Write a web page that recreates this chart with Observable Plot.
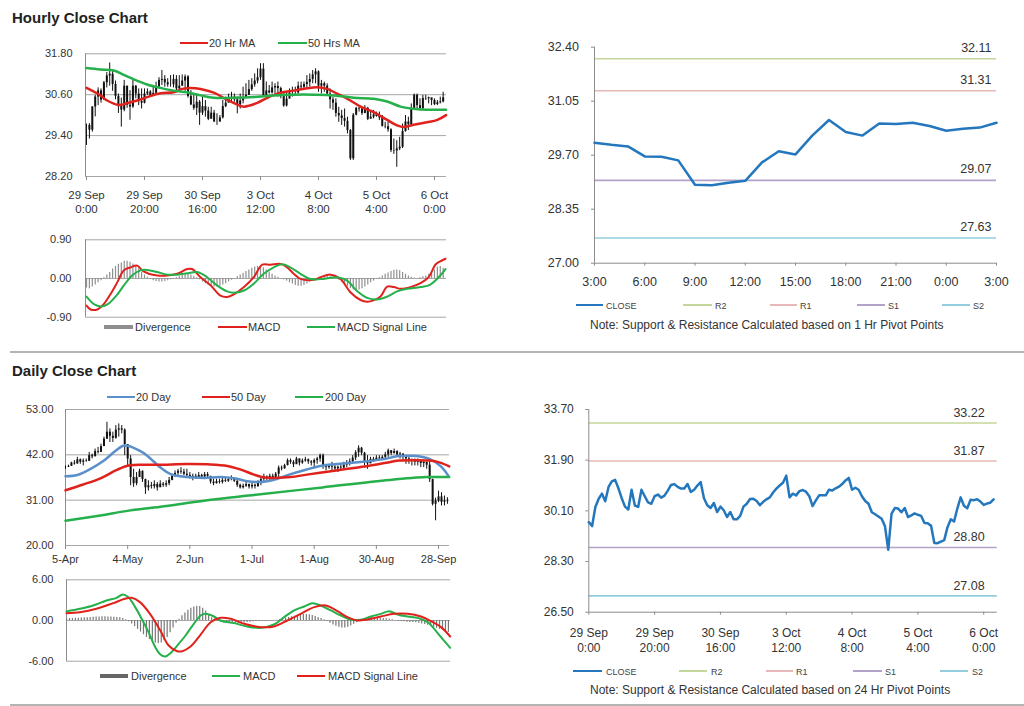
<!DOCTYPE html>
<html><head><meta charset="utf-8">
<script src="https://cdn.jsdelivr.net/npm/d3@7"></script>
<script src="https://cdn.jsdelivr.net/npm/@observablehq/plot@0.6"></script>
<style>
body{margin:0;background:#fff;font-family:"Liberation Sans",Arial,Helvetica,sans-serif;}
#page{position:relative;width:1024px;height:706px;overflow:hidden;background:#fff;}
.abs{position:absolute;white-space:nowrap;}
.title{font-weight:bold;font-size:15px;color:#222;transform:translateY(-50%);}
.lt{transform:translateY(-50%);color:#333;}
</style></head><body><div id="page"></div>
<script>
// ---------------- HOURLY DATA (bar index 0 = 29 Sep 0:00) ----------------
const hTickIdx = [0, 20, 40, 60, 80, 100, 120];
const hTickLabels = ["29 Sep\n0:00", "29 Sep\n20:00", "30 Sep\n16:00", "3 Oct\n12:00", "4 Oct\n8:00", "5 Oct\n4:00", "6 Oct\n0:00"];
const hPriceTicks = [28.2, 29.4, 30.6, 31.8];
const hMacdTicks = [-0.9, 0, 0.9];

const hClose = [29.70,29.56,30.24,30.53,30.71,30.44,30.95,31.15,31.20,30.90,
30.55,30.25,30.15,30.85,30.29,30.24,30.85,30.62,30.40,30.35,
30.62,30.68,30.57,30.64,30.82,31.02,31.05,30.95,30.89,30.89,
31.05,30.77,30.85,31.00,31.12,30.55,30.30,30.20,30.38,30.06,
30.25,30.12,29.88,30.06,29.80,29.80,29.92,30.25,30.35,30.52,
30.53,30.45,30.30,30.42,30.51,30.58,30.75,30.89,31.00,31.10,
31.35,30.58,30.71,30.65,30.80,30.84,30.78,30.62,30.27,30.47,
30.65,30.65,30.65,30.85,30.82,30.90,30.96,31.05,31.18,31.27,
30.85,30.92,30.85,30.62,30.45,30.35,30.05,29.98,29.90,29.82,
29.55,28.72,30.00,30.20,30.18,30.05,30.20,29.88,29.94,30.01,
29.96,29.92,29.67,29.66,29.57,28.96,28.95,29.01,29.06,29.52,
29.80,29.72,30.19,30.58,30.28,30.19,30.49,30.48,30.51,30.43,
30.31,30.36,30.39,30.51];
const hHigh = [29.74,29.75,30.25,30.58,30.80,30.77,30.99,31.25,31.53,31.30,
31.00,30.62,30.50,31.02,30.85,30.72,31.07,30.87,30.77,30.77,
30.77,30.77,30.72,30.87,30.97,31.10,31.31,31.16,31.07,31.16,
31.18,31.16,31.16,31.18,31.18,31.16,30.72,30.58,30.62,30.43,
30.53,30.43,30.23,30.23,30.14,30.04,29.99,30.43,30.53,30.62,
30.67,30.62,30.53,30.62,30.82,30.92,31.02,31.07,31.21,31.36,
31.51,31.51,30.97,30.87,30.97,30.92,30.97,30.82,30.62,30.67,
30.77,30.82,30.82,30.97,30.97,30.97,31.16,31.21,31.31,31.36,
31.30,31.02,30.97,30.92,30.77,30.53,30.48,30.23,30.14,30.18,
29.94,29.58,30.05,30.23,30.23,30.23,30.28,30.23,30.09,30.14,
30.09,30.09,29.99,29.79,29.84,29.60,29.30,29.25,29.35,29.74,
29.99,29.94,30.33,30.62,30.62,30.48,30.58,30.58,30.53,30.48,
30.48,30.43,30.53,30.67];
const hLow = [29.11,29.30,29.50,29.95,30.28,30.35,30.45,30.80,30.85,30.70,
30.45,30.05,29.65,30.10,30.20,29.85,30.20,30.48,30.28,30.18,
30.33,30.58,30.52,30.55,30.62,30.82,30.87,30.82,30.82,30.82,
30.80,30.72,30.75,30.85,30.70,30.50,30.28,30.14,29.99,29.70,
29.99,29.94,29.84,29.89,29.79,29.70,29.79,29.89,30.22,30.38,
30.38,30.38,30.04,30.18,30.33,30.48,30.58,30.70,30.82,30.92,
31.02,30.53,30.58,30.62,30.62,30.62,30.53,30.48,30.23,30.24,
30.48,30.53,30.58,30.62,30.72,30.72,30.77,30.82,30.92,30.92,
30.67,30.62,30.67,30.58,30.18,30.14,29.94,29.79,29.70,29.65,
29.45,28.67,28.67,29.98,30.09,29.99,30.04,29.84,29.89,29.89,
29.94,29.84,29.65,29.60,29.50,28.90,28.85,28.47,28.96,29.02,
29.50,29.55,29.70,30.18,30.18,30.18,30.15,30.43,30.33,30.28,
30.28,30.28,30.33,30.36];
// moving averages, read as [bar, value]
const ma20H = [[0,30.80],[4.8,30.58],[7.1,30.43],[11.2,30.30],[14,30.35],[17.5,30.43],[20.9,30.53],[25.5,30.64],[30,30.67],[33,30.77],[35.9,30.80],[39.3,30.77],[43.9,30.66],[48.5,30.45],[52,30.31],[54.3,30.25],[58.9,30.36],[62.3,30.51],[66.9,30.66],[71.5,30.72],[76.1,30.79],[79.5,30.82],[83,30.77],[86.4,30.63],[91,30.43],[94.5,30.25],[99,30.09],[103.7,29.86],[107.1,29.70],[109.4,29.65],[112.8,29.72],[117.4,29.79],[121,29.86],[124,30.00]];
const ma50H = [[0,31.38],[4.8,31.34],[9.4,31.31],[12.9,31.18],[16.3,31.05],[20.9,30.90],[25.5,30.80],[30,30.72],[34.7,30.67],[39.3,30.58],[43.9,30.51],[50.8,30.51],[57.7,30.53],[64.6,30.58],[71.5,30.60],[78.4,30.60],[85.3,30.58],[92.2,30.51],[99,30.48],[103.7,30.40],[108.3,30.25],[112.8,30.19],[117.4,30.16],[124,30.16]];
// MACD (hourly)
const hMacd = [[0,-0.63],[1.4,-0.72],[3.7,-0.72],[6,-0.59],[8.3,-0.36],[10.6,-0.09],[12.9,0.19],[15.2,0.26],[17.5,0.30],[19.2,0.19],[21.5,0.11],[24.4,0.07],[27.8,0.07],[31.3,0.11],[34.7,0.22],[36.4,0.22],[39.3,0.03],[42.8,-0.16],[46.2,-0.40],[48.5,-0.43],[50.8,-0.37],[54.3,-0.20],[57.7,0.03],[60.6,0.32],[63.4,0.32],[66.9,0.34],[69.2,0.26],[71.5,0.11],[73.8,-0.01],[78.4,-0.03],[80.7,0.03],[84.1,0.09],[87.6,-0.01],[91,-0.32],[94.5,-0.50],[96.8,-0.54],[99,-0.51],[101.4,-0.42],[103.7,-0.19],[106,-0.20],[108.3,-0.24],[111.7,-0.20],[115.2,-0.11],[118,0.03],[120.3,0.32],[122,0.40],[123.8,0.46]];
const hSignal = [[0,-0.42],[2.9,-0.61],[5.2,-0.65],[7.5,-0.59],[10.3,-0.40],[12.9,-0.16],[15.7,0.07],[18.6,0.19],[20.9,0.20],[24.4,0.15],[27.8,0.09],[31.3,0.09],[34.7,0.12],[38.2,0.15],[41.6,0.03],[45,-0.16],[48.5,-0.30],[50.8,-0.33],[54.3,-0.28],[57.7,-0.12],[61.1,0.11],[64.6,0.26],[67.5,0.33],[70.3,0.26],[73.8,0.11],[77.2,-0.01],[81.8,-0.01],[86.4,0.03],[89.9,-0.05],[93.3,-0.29],[96.8,-0.45],[100.2,-0.49],[103.7,-0.42],[107.1,-0.30],[110.6,-0.24],[115.2,-0.20],[118.6,-0.14],[122,0.07],[123.8,0.22]];
const hDiv = [-0.22,-0.24,-0.20,-0.15,-0.10,-0.05,
0.02,0.08,0.14,0.22,0.28,0.33,
0.36,0.40,0.40,0.38,0.34,0.28,
0.22,0.14,0.08,0.03,-0.02,
-0.05,-0.07,-0.08,-0.08,-0.07,-0.05,-0.03,-0.01,
0.02,0.05,0.08,0.10,0.10,0.08,0.05,0.02,
-0.03,-0.08,-0.12,-0.16,-0.18,-0.20,-0.20,-0.18,-0.15,-0.12,
-0.08,-0.04,0.00,0.04,
0.08,0.12,0.16,0.20,0.24,0.27,0.28,0.28,0.25,0.20,0.15,0.10,
0.06,0.03,0.00,-0.03,-0.06,
-0.10,-0.13,-0.16,-0.18,-0.18,-0.16,-0.13,-0.09,-0.05,
-0.02,0.02,0.04,0.05,0.05,0.04,0.02,0.00,-0.04,
-0.09,-0.14,-0.19,-0.23,-0.27,-0.28,-0.27,-0.24,-0.20,-0.15,-0.10,
-0.06,-0.02,0.02,0.06,0.10,0.13,
0.16,0.19,0.20,0.18,0.14,0.10,0.06,
0.03,0.01,0.00,0.02,0.04,0.06,
0.10,0.14,0.20,0.26,0.28,0.24];

// hourly pivot chart: last 25 hourly closes (5 Oct 3:00 .. 6 Oct 3:00)
const hpStart = 99;
const hpTickIdx = [0, 3, 6, 9, 12, 15, 18, 21, 24];
const hpTickLabels = ["3:00", "6:00", "9:00", "12:00", "15:00", "18:00", "21:00", "0:00", "3:00"];
const hpTicks = [27.00, 28.35, 29.70, 31.05, 32.40];
const hpLevelNames = ["R2", "R1", "S1", "S2"];
const hpLevels = [32.11, 31.31, 29.07, 27.63];

// ---------------- DAILY DATA (bar index 0 = 5 Apr) ----------------
const dTickIdx = [0, 21, 42, 63, 84, 105, 126];
const dTickLabels = ["5-Apr", "4-May", "2-Jun", "1-Jul", "1-Aug", "30-Aug", "28-Sep"];
const dPriceTicks = [20, 31, 42, 53];
const dMacdTicks = [-6, 0, 6];
const dClose = [39.0,39.2,40.0,39.8,40.8,40.2,40.5,40.4,41.8,41.5,
42.8,42.6,44.0,45.8,47.5,46.5,46.0,48.0,48.3,48.0,
44.5,41.0,36.5,35.0,36.5,38.0,36.0,34.0,34.5,34.3,
34.8,34.0,34.9,34.6,35.0,35.8,36.8,37.5,38.0,37.8,
37.3,37.0,36.5,36.8,36.5,37.0,36.6,37.2,36.8,35.4,
35.0,35.5,35.3,35.8,35.6,36.0,36.2,35.6,34.6,34.0,
34.4,34.8,34.2,34.6,34.3,35.2,36.0,36.6,36.3,36.8,
36.5,37.3,38.8,38.6,39.4,40.6,40.2,39.6,41.0,40.0,
40.5,40.8,40.3,40.0,40.6,41.0,41.8,39.2,38.9,39.3,
39.0,38.6,39.0,38.8,39.5,39.8,40.3,41.2,42.5,43.6,
42.4,40.3,39.8,40.9,40.6,41.2,41.0,41.4,42.0,43.0,
42.3,42.8,42.0,42.2,41.4,41.0,40.4,40.6,40.2,40.5,
39.9,40.2,39.5,36.0,30.0,30.8,31.8,30.5,30.8,30.9];
const dHigh = [39.3,39.5,40.2,40.6,41.4,41.0,41.0,41.0,42.6,42.2,
43.4,43.8,44.6,46.3,49.9,48.3,47.5,49.1,49.5,49.1,
48.3,44.5,41.8,38.5,37.7,38.5,38.1,36.1,35.7,35.3,
35.7,35.3,35.7,35.3,35.7,36.5,37.3,38.1,38.5,38.9,
38.5,38.5,37.7,37.3,37.3,37.7,37.3,37.7,37.7,36.5,
36.1,36.1,36.1,36.5,36.5,36.5,36.9,36.5,35.7,34.9,
34.9,35.3,34.9,35.3,34.9,35.7,36.5,37.3,36.9,37.3,
37.3,37.7,39.3,39.3,39.7,41.0,41.0,40.6,41.4,41.0,
41.0,41.4,41.0,40.6,41.0,41.4,42.2,42.2,39.7,39.7,
40.2,39.7,39.3,39.7,40.2,40.6,41.0,41.8,43.0,44.2,
43.8,42.6,41.8,41.4,41.4,41.8,41.8,41.8,42.6,43.4,
43.0,43.4,43.0,42.6,42.2,41.8,41.4,41.0,41.0,41.0,
40.6,40.6,40.2,40.6,36.1,31.5,33.2,32.8,32.0,31.6];
const dLow = [38.5,38.9,39.3,39.5,39.7,39.7,39.3,40.2,40.6,41.0,
41.8,42.2,42.6,44.2,45.8,45.0,45.0,45.8,46.3,47.1,
41.8,39.3,34.5,34.1,34.5,36.5,35.3,32.4,33.2,33.7,
33.7,33.2,34.1,34.1,34.1,34.5,35.7,36.5,36.9,37.3,
36.9,36.5,36.1,35.7,36.1,36.1,36.1,36.1,36.5,34.9,
34.5,34.9,34.9,34.9,35.3,35.3,35.7,35.3,34.1,33.7,
33.7,34.1,33.7,33.7,33.7,34.1,34.5,35.3,35.7,35.7,
35.7,36.1,36.5,38.1,38.5,39.3,39.7,38.9,40.2,39.3,
39.7,40.2,39.7,39.3,38.9,39.7,40.2,38.5,38.1,38.5,
38.1,37.7,37.7,38.1,38.5,38.9,39.3,39.7,40.6,41.4,
41.8,39.3,38.5,40.2,40.2,40.6,40.6,40.6,41.0,41.4,
41.8,42.2,41.4,41.0,40.6,39.7,39.7,39.3,39.3,39.3,
38.9,38.9,38.5,35.3,29.6,26.0,30.4,29.6,29.6,30.0];
const ma20D = [[0,36.8],[4,37.1],[8.5,38.6],[13,40.6],[16.3,42.6],[19.5,44.2],[21,44.2],[25,43.0],[27.6,41.8],[32.1,38.9],[35.5,37.3],[41,36.6],[46.8,36.4],[52.4,36.6],[56.9,36.3],[61.4,35.6],[64.8,35.4],[68.2,35.6],[71.6,36.2],[75.5,37.2],[81.2,38.4],[86.9,39.4],[93.6,39.9],[100.3,40.3],[107,40.9],[112.7,41.7],[118.4,41.7],[122.9,41.0],[126.8,39.2],[129.4,36.8]];
const ma50D = [[0,33.4],[6,34.8],[11.8,36.3],[17.5,38.4],[21.4,39.4],[26.5,39.6],[34.4,39.6],[41,39.8],[48,39.7],[54.7,39.3],[59.2,38.4],[63.7,37.2],[67.1,36.5],[70.5,36.4],[76.1,36.6],[81.5,37.2],[88.5,37.9],[95.3,38.6],[102,39.3],[107.7,40.0],[112.7,40.6],[118,40.7],[123,40.6],[126.5,40.1],[129.6,39.2]];
const ma200D = [[0,26.0],[11.8,27.3],[20.9,28.4],[32.1,29.4],[47.9,31.0],[64.3,32.3],[86.8,34.1],[109.4,35.9],[121.8,36.6],[129.6,36.6]];
const dMacd = [[0,1.33],[4.5,1.72],[9,2.21],[13.5,2.95],[16.9,3.34],[19,3.84],[20.9,3.44],[23.2,1.97],[25.4,0.25],[27.7,-1.72],[30,-3.94],[31.7,-5.02],[33.4,-5.31],[35.1,-4.82],[37.4,-3.69],[40.2,-2.21],[43,-0.49],[45.3,0.74],[47,0.98],[49.8,0.59],[52,0],[56.6,-0.39],[61.1,-0.89],[65.6,-1.08],[70.1,-0.59],[73.5,0.49],[76.9,1.48],[80.3,2.07],[83.1,2.56],[85.9,2.21],[89.3,1.48],[92.7,0.74],[96.1,0.10],[99.4,0.10],[102.8,0.59],[106.2,0.98],[109,1.38],[111.8,0.89],[115.2,0.59],[118.6,0.39],[122,-0.25],[124.2,-1.23],[126.5,-2.46],[129.6,-4.03]];
const dSignal = [[0,1.08],[4.5,1.23],[10.1,1.72],[15.8,2.56],[19.7,3.20],[22,3.34],[24.8,2.71],[28.2,0.98],[31.7,-1.48],[34.5,-3.69],[37.4,-4.53],[39.1,-4.53],[41.9,-3.84],[45.3,-2.07],[48.7,-0.25],[52,0.39],[55.5,0.25],[60,-0.49],[65.6,-0.98],[70.1,-0.89],[74.6,0],[79.1,0.98],[83.7,1.97],[87.6,2.21],[91.5,1.38],[94.9,0.49],[98.3,0],[101.7,0.15],[106.2,0.59],[110.7,0.98],[115.2,0.98],[119.7,0.59],[123.1,-0.10],[126.5,-0.98],[129.6,-2.36]];
const dDiv = [0.25,0.28,0.30,0.32,0.35,0.38,0.40,0.42,0.45,0.48,0.50,0.52,0.55,0.55,0.52,0.50,0.48,0.45,0.40,0.30,
0.10,-0.20,-0.50,-0.90,-1.30,-1.70,-2.10,-2.50,-2.80,-3.10,-3.30,-3.40,-3.30,-3.00,-2.50,
-1.80,-1.10,-0.40,0.20,
0.70,1.10,1.50,1.80,2.00,2.10,2.05,1.80,1.40,
0.90,0.40,0.10,
-0.15,-0.25,-0.35,-0.40,-0.45,-0.45,-0.45,-0.40,-0.40,-0.35,-0.30,-0.25,-0.20,-0.15,-0.15,-0.10,-0.10,-0.10,-0.05,0.00,0.05,0.15,0.25,0.35,
0.45,0.55,0.65,0.75,0.85,0.90,0.90,0.85,0.75,0.60,0.45,0.30,
0.10,-0.15,-0.40,-0.65,-0.85,-1.00,-1.10,-1.10,-1.00,-0.80,-0.55,-0.30,
-0.05,0.15,0.30,0.40,0.45,0.45,0.40,0.35,0.30,0.25,0.20,0.10,
0.00,-0.10,-0.15,-0.20,-0.25,-0.30,-0.30,-0.35,-0.40,-0.50,-0.60,
-0.70,-0.85,-1.00,-1.15,-1.30,-1.45,-1.60,-1.75];

// daily pivot chart (24 Hr pivots) uses the hourly closes
const dpTicks = [26.50, 28.30, 30.10, 31.90, 33.70];
const dpLevels = [33.22, 31.87, 28.80, 27.08];

// ---------------- STYLE ----------------
const FONT = "'Liberation Sans', Arial, Helvetica, sans-serif";
const GRID = "#a6a6a6", AXIS = "#8c8c8c", TXT = "#333";
const RED = "#e0221c", GREEN = "#25b04b", BLUE = "#5b8fc9", DIVC = "#8e8e8e", BAR = "#111";
const LEVC = ["#c3d69b", "#e6b9b8", "#b3a2c7", "#93cddd"];
const CLOSEC = "#2577bd";
const f2 = d => d.toFixed(2);
const page = document.getElementById("page");

function put(svg, left, top) {
  svg.style.position = "absolute";
  svg.style.left = left + "px";
  svg.style.top = top + "px";
  page.appendChild(svg);
}
function div(html, left, top, cls, css) {
  const e = document.createElement("div");
  e.className = "abs " + (cls || "");
  e.style.left = left + "px"; e.style.top = top + "px";
  if (css) e.style.cssText += css;
  e.innerHTML = html;
  page.appendChild(e);
  return e;
}
function swatch(x1, x2, y, color, th) {
  div("", x1, y - th / 2, "", `width:${x2 - x1}px;height:${th}px;background:${color};`);
}
function label(txt, x, y, size, color) {
  div(txt, x, y, "lt", `font-size:${size}px;color:${color || TXT};`);
}
const baseStyle = {fontFamily: FONT, fontSize: "11px", color: TXT, background: "transparent", overflow: "visible"};
const hIdx = d3.range(hClose.length);
const dIdx = d3.range(dClose.length);

// ---------------- PANEL 1: hourly price ----------------
const hxDom = [-0.35, 124.15];
put(Plot.plot({
  width: 460, height: 180, marginLeft: 85, marginRight: 14, marginTop: 7.3, marginBottom: 50,
  x: {domain: hxDom}, y: {domain: [28.2, 31.8]}, style: baseStyle,
  marks: [
    Plot.ruleY(hPriceTicks, {stroke: GRID}),
    Plot.ruleX([hxDom[0]], {stroke: AXIS}),
    Plot.axisY({ticks: hPriceTicks, tickFormat: f2, tickSize: 0, tickPadding: 13, fontSize: 11}),
    Plot.axisX({ticks: hTickIdx, tickSize: 4, tickFormat: () => "", stroke: AXIS}),
    Plot.text(hTickIdx, {x: d => d, text: (d, i) => hTickLabels[i], frameAnchor: "bottom", lineAnchor: "top", dy: 12, lineHeight: 1.25, fontSize: 11.5, fill: TXT}),
    Plot.ruleX(hIdx, {x: d => d, y1: i => hLow[i], y2: i => hHigh[i], stroke: BAR, strokeWidth: 1}),
    Plot.ruleX(hIdx, {x: d => d, y1: i => hClose[Math.max(0, i - 1)], y2: i => hClose[i], stroke: BAR, strokeWidth: 2}),
    Plot.line(ma20H, {x: d => d[0], y: d => d[1], stroke: RED, strokeWidth: 2.5, curve: "catmull-rom"}),
    Plot.line(ma50H, {x: d => d[0], y: d => d[1], stroke: GREEN, strokeWidth: 2.5, curve: "catmull-rom"})
  ]
}), 0, 46);

// ---------------- PANEL 2: hourly MACD ----------------
put(Plot.plot({
  width: 460, height: 90, marginLeft: 85, marginRight: 14, marginTop: 7.3, marginBottom: 5.3,
  x: {domain: hxDom, axis: null}, y: {domain: [-0.9, 0.9]}, style: baseStyle,
  marks: [
    Plot.ruleY(hMacdTicks, {stroke: GRID}),
    Plot.ruleX([hxDom[0]], {stroke: AXIS}),
    Plot.axisY({ticks: hMacdTicks, tickFormat: f2, tickSize: 0, tickPadding: 14, fontSize: 11}),
    Plot.ruleX(hIdx, {x: d => d, y1: 0, y2: i => hDiv[i], stroke: DIVC, strokeWidth: 1.2}),
    Plot.line(hMacd, {x: d => d[0], y: d => d[1], stroke: RED, strokeWidth: 2, curve: "catmull-rom"}),
    Plot.line(hSignal, {x: d => d[0], y: d => d[1], stroke: GREEN, strokeWidth: 2, curve: "catmull-rom"})
  ]
}), 0, 232);

// ---------------- PANEL 3: hourly pivot ----------------
const hp = hClose.slice(hpStart);
put(Plot.plot({
  width: 504, height: 270, marginLeft: 74, marginRight: 28, marginTop: 16.7, marginBottom: 37.3,
  x: {domain: [0, 24]}, y: {domain: [27, 32.4]}, style: baseStyle,
  marks: [
    Plot.ruleY(hpLevels, {y: d => d, stroke: (d, i) => LEVC[i], strokeWidth: 1.6}),
    Plot.ruleX([0], {stroke: AXIS}),
    Plot.ruleY([27], {stroke: AXIS}),
    Plot.axisY({ticks: hpTicks, tickFormat: f2, tickSize: 3, tickPadding: 12.5, stroke: AXIS, fontSize: 12.5}),
    Plot.axisX({ticks: hpTickIdx, tickSize: 3, tickPadding: 11, stroke: AXIS, fontSize: 12.5, tickFormat: d => hpTickLabels[hpTickIdx.indexOf(d)]}),
    Plot.line(hp, {x: (d, i) => i, y: d => d, stroke: CLOSEC, strokeWidth: 2.5}),
    Plot.text(hpLevels, {y: d => d, frameAnchor: "right", textAnchor: "end", dx: -5, dy: -11, text: f2, fontSize: 12.5, fill: TXT})
  ]
}), 520, 30);

// ---------------- PANEL 4: daily price ----------------
const dxDom = [0, 129.7];
put(Plot.plot({
  width: 460, height: 172, marginLeft: 65, marginRight: 11, marginTop: 9, marginBottom: 27,
  x: {domain: dxDom}, y: {domain: [20, 53]}, style: baseStyle,
  marks: [
    Plot.ruleY(dPriceTicks, {stroke: GRID}),
    Plot.ruleX([0], {stroke: AXIS}),
    Plot.axisY({ticks: dPriceTicks, tickFormat: f2, tickSize: 0, tickPadding: 12, fontSize: 11}),
    Plot.axisX({ticks: dTickIdx, tickSize: 4, tickPadding: 6, stroke: AXIS, fontSize: 11, tickFormat: d => dTickLabels[dTickIdx.indexOf(d)]}),
    Plot.ruleX(dIdx, {x: d => d, y1: i => dLow[i], y2: i => dHigh[i], stroke: BAR, strokeWidth: 1}),
    Plot.ruleX(dIdx, {x: d => d, y1: i => dClose[Math.max(0, i - 1)], y2: i => dClose[i], stroke: BAR, strokeWidth: 2}),
    Plot.line(ma20D, {x: d => d[0], y: d => d[1], stroke: BLUE, strokeWidth: 2.5, curve: "catmull-rom"}),
    Plot.line(ma50D, {x: d => d[0], y: d => d[1], stroke: RED, strokeWidth: 2.5, curve: "catmull-rom"}),
    Plot.line(ma200D, {x: d => d[0], y: d => d[1], stroke: GREEN, strokeWidth: 2.5, curve: "catmull-rom"})
  ]
}), 0, 400);

// ---------------- PANEL 5: daily MACD ----------------
put(Plot.plot({
  width: 460, height: 95, marginLeft: 66, marginRight: 10, marginTop: 6.3, marginBottom: 7.3,
  x: {domain: dxDom, axis: null}, y: {domain: [-6, 6]}, style: baseStyle,
  marks: [
    Plot.ruleY(dMacdTicks, {stroke: GRID}),
    Plot.ruleX([0], {stroke: AXIS}),
    Plot.axisY({ticks: dMacdTicks, tickFormat: f2, tickSize: 0, tickPadding: 13, fontSize: 11}),
    Plot.ruleX(dIdx, {x: d => d, y1: 0, y2: i => dDiv[i], stroke: "#777", strokeWidth: 1.2}),
    Plot.line(dMacd, {x: d => d[0], y: d => d[1], stroke: GREEN, strokeWidth: 2, curve: "catmull-rom"}),
    Plot.line(dSignal, {x: d => d[0], y: d => d[1], stroke: RED, strokeWidth: 2, curve: "catmull-rom"})
  ]
}), 0, 573);

// ---------------- PANEL 6: daily pivot ----------------
put(Plot.plot({
  width: 504, height: 265, marginLeft: 68.3, marginRight: 27.3, marginTop: 14, marginBottom: 48.3,
  x: {domain: [0, 124.1]}, y: {domain: [26.5, 33.7]}, style: baseStyle,
  marks: [
    Plot.ruleY(dpLevels, {y: d => d, stroke: (d, i) => LEVC[i], strokeWidth: 1.6}),
    Plot.ruleX([0], {stroke: AXIS}),
    Plot.ruleY([26.5], {stroke: AXIS}),
    Plot.axisY({ticks: dpTicks, tickFormat: f2, tickSize: 3, tickPadding: 12, stroke: AXIS, fontSize: 12}),
    Plot.axisX({ticks: hTickIdx, tickSize: 3, tickFormat: () => "", stroke: AXIS}),
    Plot.text(hTickIdx, {x: d => d, text: (d, i) => hTickLabels[i], frameAnchor: "bottom", lineAnchor: "top", dy: 14.5, lineHeight: 1.25, fontSize: 12, fill: TXT}),
    Plot.line(hClose, {x: (d, i) => i, y: d => d, stroke: CLOSEC, strokeWidth: 2.5}),
    Plot.text(dpLevels, {y: d => d, frameAnchor: "right", textAnchor: "end", dx: -12.5, dy: -10, text: f2, fontSize: 12.5, fill: TXT})
  ]
}), 520, 395);

// ---------------- TITLES, LEGENDS, NOTES ----------------
div("Hourly Close Chart", 12, 16.5, "title");
div("Daily Close Chart", 12, 370, "title");
div("", 10, 351, "", "width:1014px;height:2px;background:#b4b4b4;");
div("", 10, 704, "", "width:1014px;height:2px;background:#b4b4b4;");

// hourly price legend
swatch(180, 208, 42.7, RED, 2); label("20 Hr MA", 209, 42.7, 11);
swatch(278, 307, 42.7, GREEN, 2); label("50 Hrs MA", 308, 42.7, 11);
// hourly MACD legend
swatch(104, 133, 327, DIVC, 4.5); label("Divergence", 135, 327, 11);
swatch(218, 247, 327, RED, 2); label("MACD", 248, 327, 11);
swatch(307, 335, 327, GREEN, 2); label("MACD Signal Line", 337, 327, 11);
// hourly pivot legend
const pivLegX1 = [[576, 603, 606], [683, 712, 715], [770, 797, 800], [857, 885, 888], [942, 970, 973]];
const pivLegX2 = [[573, 602, 606], [679, 707, 711], [766, 793, 796], [853, 882, 885], [940, 968, 972]];
const legNames = ["CLOSE"].concat(hpLevelNames);
const legCols = [CLOSEC].concat(LEVC);
pivLegX1.forEach((p, i) => { swatch(p[0], p[1], 305, legCols[i], i ? 1.5 : 2.5); label(legNames[i], p[2], 305.5, 9, "#444"); });
label("Note: Support &amp; Resistance Calculated based on 1 Hr Pivot Points", 590, 325, 12);
// daily price legend
swatch(107, 135, 396.7, BLUE, 2); label("20 Day", 136, 396.7, 11);
swatch(202, 230, 396.7, RED, 2); label("50 Day", 231, 396.7, 11);
swatch(295, 323, 396.7, GREEN, 2); label("200 Day", 325, 396.7, 11);
// daily MACD legend
swatch(100, 128, 676, "#666", 4.5); label("Divergence", 131, 676, 11);
swatch(212, 240, 676, GREEN, 2); label("MACD", 243, 676, 11);
swatch(297, 325, 676, RED, 2); label("MACD Signal Line", 328, 676, 11);
// daily pivot legend
pivLegX2.forEach((p, i) => { swatch(p[0], p[1], 671, legCols[i], i ? 1.5 : 2.5); label(legNames[i], p[2], 671.5, 9, "#444"); });
label("Note: Support &amp; Resistance Calculated based on 24 Hr Pivot Points", 590, 690, 12);
</script></body></html>
